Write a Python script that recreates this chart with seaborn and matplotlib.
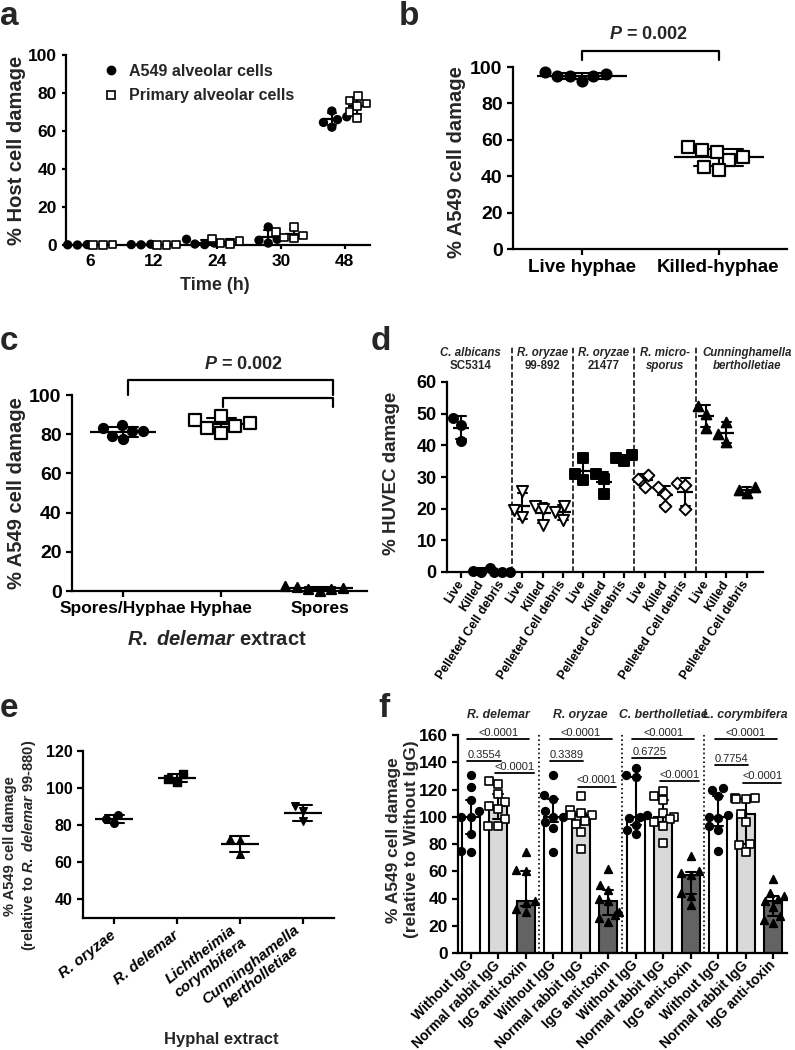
import warnings
import numpy as np
import pandas as pd
import matplotlib
matplotlib.use('Agg')
import matplotlib.pyplot as plt
from matplotlib.lines import Line2D
from matplotlib.patches import Rectangle
import seaborn as sns

warnings.filterwarnings('ignore')

# -----------------------------
# Data
# -----------------------------
# a: host cell damage over time
a_times = ['6', '12', '24', '30', '48']
a_cells = ['A549 alveolar cells', 'Primary alveolar cells']
a_a549 = [[0.2, 0.1, 0.0], [0.4, 0.2, 0.1], [3.0, 1.0, 0.5, 0.2],
          [9.5, 3.0, 2.5, 1.0], [70.5, 67.5, 66.0, 64.5, 62.0]]
a_primary = [[0.3, 0.1, 0.0], [0.2, 0.1, 0.0], [3.5, 2.0, 1.0, 0.5],
             [9.5, 7.0, 5.0, 4.0, 3.5], [78.5, 76.0, 74.5, 73.0, 70.0, 67.0]]

# b: live vs killed hyphae
b_groups = ['Live hyphae', 'Killed-hyphae']
b_live = [96, 95, 95, 97, 95, 92.5]
b_killed = [54.5, 49, 53.5, 50.5, 45, 56, 43.5]

# c: R. delemar extract
c_groups = ['Spores/Hyphae', 'Hyphae', 'Spores']
c_spores_hyphae = [83, 81.5, 81.5, 84.5, 79, 77.5]
c_hyphae = [87.5, 85.5, 84, 89.5, 83, 80.5]
c_spores = [2.2, 1.5, 1.0, 2.5, 0.8, 0.2]

# d: HUVEC damage (Live, Killed, Pelleted Cell debris)
d_conditions = ['Live', 'Killed', 'Pelleted Cell debris']
d_title_top = ['C. albicans', 'R. oryzae', 'R. oryzae', 'R. micro-', 'Cunninghamella']
d_title_bottom = ['SC5314', '99-892', '21477', 'sporus', 'bertholletiae']
d_title_bottom_italic = [False, False, False, True, True]
d_calbicans = [[48.5, 46.5, 41.5], [1.2, 0.3, 0.0], [0.1, 0.0, 0.0]]
d_roryzae892 = [[25.5, 19.5, 17.5], [21.0, 20.0, 15.0], [21.0, 19.0, 16.5]]
d_roryzae21477 = [[36.0, 31.0, 29.0], [31.0, 29.5, 24.5], [37.0, 36.0, 35.0]]
d_rmicro = [[30.5, 29.5, 27.0], [27.0, 24.5, 21.0], [28.0, 27.5, 20.0]]
d_cunning = [[52.5, 50.0, 45.5], [47.5, 43.5, 41.0], [27.0, 26.0, 25.0]]

# e: hyphal extracts, relative to R. delemar 99-880
e_species = ['R. oryzae', 'R. delemar', 'Lichtheimia\ncorymbifera', 'Cunninghamella\nbertholletiae']
e_values = [[85.5, 83.0, 81.0], [107.5, 105.0, 103.5], [72.5, 72.0, 64.5], [90.5, 87.5, 82.0]]

# f: IgG anti-toxin
f_species = ['R. delemar', 'R. oryzae', 'C. bertholletiae', 'L. corymbifera']
f_kinds = ['Without IgG', 'Normal rabbit IgG', 'IgG anti-toxin']
f_without = [[131, 122, 112, 104, 100, 100, 87, 75, 74],
             [131, 116, 113, 104, 100, 100, 96, 92, 74],
             [136, 131, 129, 101, 100, 99, 94, 90, 87],
             [121, 120, 115, 101, 100, 99, 93, 90, 75]]
f_normal = [[126, 124, 117, 111, 108, 106, 98, 93, 93],
            [115, 105, 103, 101, 101, 97, 95, 89, 76],
            [119, 115, 112, 103, 100, 98, 96, 93, 81],
            [114, 114, 113, 113, 102, 96, 80, 79, 74]]
f_antitoxin = [[74, 61, 60, 38, 37, 32, 30],
               [62, 50, 46, 40, 38, 30, 28, 26, 23],
               [71, 60, 59, 57, 44, 42, 35],
               [54, 44, 42, 40, 38, 34, 27, 24, 22]]
f_pvalues = [['<0.0001', '0.3554', '<0.0001'],
             ['<0.0001', '0.3389', '<0.0001'],
             ['<0.0001', '0.6725', '<0.0001'],
             ['<0.0001', '0.7754', '<0.0001']]
f_p_heights = [[157, 141, 132], [157, 141, 122], [157, 143, 126], [157, 138, 125]]

# -----------------------------
# Style
# -----------------------------
sns.set_style('ticks')
plt.rcParams['font.family'] = ['Liberation Sans', 'DejaVu Sans']
plt.rcParams['font.weight'] = 'bold'
plt.rcParams['axes.labelweight'] = 'bold'
plt.rcParams['axes.linewidth'] = 1.6
plt.rcParams['xtick.major.width'] = 1.6
plt.rcParams['ytick.major.width'] = 1.6
plt.rcParams['xtick.major.size'] = 4
plt.rcParams['ytick.major.size'] = 4
plt.rcParams['xtick.color'] = 'black'
plt.rcParams['ytick.color'] = 'black'
plt.rcParams['axes.edgecolor'] = 'black'
plt.rcParams['mathtext.fontset'] = 'custom'
plt.rcParams['mathtext.it'] = 'Liberation Sans:italic:bold'
plt.rcParams['mathtext.rm'] = 'Liberation Sans:bold'
plt.rcParams['mathtext.bf'] = 'Liberation Sans:bold'

W, H = 795, 1050
fig = plt.figure(figsize=(W / 100, H / 100), dpi=100)


def box(l, t, r, b):
    return [l / W, 1 - b / H, (r - l) / W, (b - t) / H]


def mean_sd(ax, df, x, order, msize, cap, hue=None, hue_order=None, dodge=False):
    sns.pointplot(data=df, x=x, y='value', hue=hue, order=order, hue_order=hue_order,
                  palette=['black'] * len(hue_order) if hue else None,
                  color='black', dodge=dodge, errorbar='sd', markers='_', linestyles='none',
                  markersize=msize, markeredgewidth=1.6, capsize=cap,
                  err_kws={'linewidth': 1.5, 'linestyle': '-'}, legend=False, ax=ax)


def unclip(ax):
    for c in ax.collections:
        c.set_clip_on(False)
    for l in ax.lines:
        l.set_clip_on(False)


# -----------------------------
# a
# -----------------------------
rows = []
for t, va, vp in zip(a_times, a_a549, a_primary):
    rows += [(t, a_cells[0], v) for v in va]
    rows += [(t, a_cells[1], v) for v in vp]
df_a = pd.DataFrame(rows, columns=['time', 'cell', 'value'])

ax = fig.add_axes(box(66, 55, 370, 245))
pal_a = {a_cells[0]: 'black', a_cells[1]: 'white'}
for cell, mk in zip(a_cells, ['o', 's']):
    sns.swarmplot(data=df_a[df_a.cell == cell], x='time', y='value', hue='cell',
                  order=a_times, hue_order=a_cells, palette=pal_a, dodge=True,
                  marker=mk, size=5.5, edgecolor='black', linewidth=1.2, legend=False, ax=ax)
mean_sd(ax, df_a, 'time', a_times, 13, 0.12, hue='cell', hue_order=a_cells, dodge=0.4)
unclip(ax)
ax.set_ylim(0, 100)
ax.set_xlim(-0.38, 4.4)
ax.set_yticks(range(0, 101, 20))
ax.tick_params(labelsize=12.5, length=3)
ax.set_xlabel('Time (h)', fontsize=13)
ax.set_ylabel('% Host cell damage', fontsize=14.5)
ax.xaxis.set_label_coords(0.49, -0.17)
ax.yaxis.set_label_coords(-0.13, 0.5)
handles = [Line2D([], [], marker='o', ls='none', color='black', markersize=6),
           Line2D([], [], marker='s', ls='none', mfc='white', mec='black', markersize=6, mew=1.2)]
ax.legend(handles, a_cells, loc='upper left', bbox_to_anchor=(0.07, 1.03), frameon=False,
          fontsize=11.5, handletextpad=0.5, labelspacing=0.6, handlelength=1.2)
sns.despine(ax=ax)

# -----------------------------
# b
# -----------------------------
df_b = pd.DataFrame([(b_groups[0], v) for v in b_live] + [(b_groups[1], v) for v in b_killed],
                    columns=['group', 'value'])
ax = fig.add_axes(box(513, 67, 787, 249))
sns.swarmplot(data=df_b[df_b.group == b_groups[0]], x='group', y='value', order=b_groups,
              color='black', marker='o', size=7.5, edgecolor='black', linewidth=1.2, ax=ax)
sns.swarmplot(data=df_b[df_b.group == b_groups[1]], x='group', y='value', order=b_groups,
              color='white', marker='s', size=8.5, edgecolor='black', linewidth=1.6, ax=ax)
mean_sd(ax, df_b, 'group', b_groups, 65, 0.36)
unclip(ax)
ax.set_ylim(0, 100)
ax.set_xlim(-0.5, 1.5)
ax.set_yticks(range(0, 101, 20))
ax.tick_params(labelsize=14)
ax.tick_params(axis='x', labelsize=13.5)
ax.set_xlabel('')
ax.set_ylabel('% A549 cell damage', fontsize=14.5)
ax.yaxis.set_label_coords(-0.17, 0.48)
ax.plot([0, 0, 1, 1], [104, 109, 109, 104], color='black', lw=1.6, clip_on=False)
ax.text(0.49, 113, r'$\mathit{P}$ = 0.002', ha='center', va='bottom', fontsize=13)
sns.despine(ax=ax)

# -----------------------------
# c
# -----------------------------
df_c = pd.DataFrame([(c_groups[0], v) for v in c_spores_hyphae] +
                    [(c_groups[1], v) for v in c_hyphae] +
                    [(c_groups[2], v) for v in c_spores], columns=['group', 'value'])
ax = fig.add_axes(box(72, 395, 367, 591))
for g, mk, col, sz in zip(c_groups, ['o', 's', '^'], ['black', 'white', 'black'], [6.5, 9, 6.5]):
    sns.swarmplot(data=df_c[df_c.group == g], x='group', y='value', order=c_groups,
                  color=col, marker=mk, size=sz, edgecolor='black', linewidth=1.6, ax=ax)
mean_sd(ax, df_c, 'group', c_groups, 47, 0.3)
unclip(ax)
ax.set_ylim(0, 100)
ax.set_xlim(-0.52, 2.48)
ax.set_yticks(range(0, 101, 20))
ax.tick_params(labelsize=14)
ax.tick_params(axis='x', labelsize=12.5)
ax.set_xlabel(r'$\mathit{R.}$ $\mathit{delemar}$ extract', fontsize=14.5)
ax.set_ylabel('% A549 cell damage', fontsize=14.5)
ax.xaxis.set_label_coords(0.49, -0.2)
ax.yaxis.set_label_coords(-0.155, 0.5)
ax.plot([0.05, 0.05, 2.13, 2.13], [100, 107.6, 107.6, 100], color='black', lw=1.6, clip_on=False)
ax.plot([1.02, 1.02, 2.13, 2.13], [94, 98.3, 98.3, 94], color='black', lw=1.6, clip_on=False)
ax.text(1.22, 111, r'$\mathit{P}$ = 0.002', ha='center', va='bottom', fontsize=13)
sns.despine(ax=ax)

# -----------------------------
# d
# -----------------------------
d_sets = [d_calbicans, d_roryzae892, d_roryzae21477, d_rmicro, d_cunning]
d_keys = [f'{s}|{c}' for s in range(5) for c in d_conditions]
rows = []
for s, sets in enumerate(d_sets):
    for c, vals in zip(d_conditions, sets):
        rows += [(s, f'{s}|{c}', v) for v in vals]
df_d = pd.DataFrame(rows, columns=['strain', 'key', 'value'])

ax = fig.add_axes(box(447, 382, 763, 572))
d_marks = [('o', 'black', 6.5), ('v', 'white', 8), ('s', 'black', 6.5), ('D', 'white', 6), ('^', 'black', 7)]
for s, (mk, col, sz) in enumerate(d_marks):
    sns.swarmplot(data=df_d[df_d.strain == s], x='key', y='value', order=d_keys,
                  color=col, marker=mk, size=sz, edgecolor='black', linewidth=1.4, ax=ax)
mean_sd(ax, df_d, 'key', d_keys, 11, 0.45)
unclip(ax)
ax.set_ylim(0, 60)
ax.set_xlim(-0.69, 14.8)
ax.set_yticks(range(0, 61, 10))
ax.set_xticks(range(15))
ax.set_xticklabels(d_conditions * 5, rotation=57, ha='right', va='center',
                   rotation_mode='anchor', fontsize=9)
ax.tick_params(axis='y', labelsize=13)
ax.tick_params(axis='x', pad=3)
ax.set_xlabel('')
ax.set_ylabel('% HUVEC damage', fontsize=13.5)
ax.yaxis.set_label_coords(-0.15, 0.52)
ax.vlines([2.5, 5.5, 8.5, 11.5], 0, 71, colors='black', linestyles='--', lw=1.1, clip_on=False)
d_title_x = [0.45, 4, 7, 10, 14]
for s in range(5):
    ax.text(d_title_x[s], 69.3, d_title_top[s], ha='center', va='center', fontsize=8.3,
            fontstyle='italic', clip_on=False)
    ax.text(d_title_x[s], 65.2, d_title_bottom[s], ha='center', va='center', fontsize=8.3,
            fontstyle='italic' if d_title_bottom_italic[s] else 'normal', clip_on=False)
sns.despine(ax=ax)

# -----------------------------
# e
# -----------------------------
rows = []
for sp, vals in zip(e_species, e_values):
    rows += [(sp, v) for v in vals]
df_e = pd.DataFrame(rows, columns=['species', 'value'])
ax = fig.add_axes(box(83, 751, 334, 917.5))
for sp, mk in zip(e_species, ['o', 's', '^', 'v']):
    sns.swarmplot(data=df_e[df_e.species == sp], x='species', y='value', order=e_species,
                  color='black', marker=mk, size=5.5, edgecolor='black', linewidth=1, ax=ax)
mean_sd(ax, df_e, 'species', e_species, 28, 0.3)
unclip(ax)
ax.set_ylim(30, 120)
ax.set_xlim(-0.5, 3.5)
ax.set_yticks(range(40, 121, 20))
ax.set_xticks(range(4))
ax.set_xticklabels(e_species, rotation=38, ha='right', va='center', rotation_mode='anchor',
                   fontsize=11, fontstyle='italic', multialignment='center')
ax.tick_params(axis='y', labelsize=11.5)
ax.tick_params(axis='x', pad=8)
ax.set_xlabel('Hyphal extract', fontsize=12)
ax.set_ylabel('% A549 cell damage\n(relative to ' + r'$\mathit{R.}$ $\mathit{delemar}$' + ' 99-880)',
              fontsize=10.5)
ax.xaxis.set_label_coords(0.55, -0.69)
ax.yaxis.set_label_coords(-0.18, 0.43)
sns.despine(ax=ax)

# -----------------------------
# f
# -----------------------------
f_keys = [f'{s}|{k}' for s in range(4) for k in f_kinds]
rows = []
for s in range(4):
    for k, vals in zip(f_kinds, [f_without[s], f_normal[s], f_antitoxin[s]]):
        rows += [(f'{s}|{k}', k, v) for v in vals]
df_f = pd.DataFrame(rows, columns=['key', 'kind', 'value'])

ax = fig.add_axes(box(458, 735, 787, 953))
f_colors = {f_kinds[0]: 'white', f_kinds[1]: '#d9d9d9', f_kinds[2]: '#636363'}
sns.barplot(data=df_f, x='key', y='value', hue='kind', order=f_keys, hue_order=f_kinds,
            palette=f_colors, dodge=False, estimator='median', errorbar=('pi', 50),
            capsize=0.35, width=0.65, edgecolor='black', linewidth=1.5,
            err_kws={'linewidth': 1.5, 'color': 'black'}, legend=False, ax=ax)
for k, mk, col in zip(f_kinds, ['o', 's', '^'], ['black', 'white', 'black']):
    sns.swarmplot(data=df_f[df_f.kind == k], x='key', y='value', order=f_keys,
                  color=col, marker=mk, size=5.5, edgecolor='black', linewidth=1.2, ax=ax)
ax.set_ylim(0, 160)
ax.set_xlim(-0.46, 11.5)
ax.set_yticks(range(0, 161, 20))
ax.set_xticks(range(12))
ax.set_xticklabels(f_kinds * 4, rotation=45, ha='right', va='center',
                   rotation_mode='anchor', fontsize=10)
ax.tick_params(axis='y', labelsize=12.5)
ax.tick_params(axis='x', pad=3)
ax.set_xlabel('')
ax.set_ylabel('% A549 cell damage\n(relative to Without IgG)', fontsize=12.5)
ax.yaxis.set_label_coords(-0.12, 0.52)
ax.vlines([2.5, 5.5, 8.5], 0, 161, colors='black', linestyles=':', lw=1.2, clip_on=False)
for s in range(4):
    base = 3 * s
    spans = [(base - 0.12, base + 2.13), (base - 0.12, base + 1.1), (base + 0.89, base + 2.3)]
    for (x0, x1), yv, txt in zip(spans, f_p_heights[s], f_pvalues[s]):
        ax.plot([x0, x1], [yv, yv], color='black', lw=1.3, clip_on=False)
        ax.text((x0 + x1) / 2, yv + 1, txt, ha='center', va='bottom', fontsize=8,
                fontweight='normal')
    ax.text(base + 1, 175, f_species[s], ha='center', va='center', fontsize=8.8,
            fontstyle='italic')
sns.despine(ax=ax)

# -----------------------------
# Panel letters
# -----------------------------
for lab, x, y in [('a', 0, 25), ('b', 399, 25), ('c', 0, 350), ('d', 371, 350),
                  ('e', 0, 717), ('f', 378, 717)]:
    fig.text(x / W, 1 - y / H, lab, fontsize=24, fontweight='bold', va='baseline', ha='left')

# a stray mark shows up in the bottom-left corner; keep that corner blank
fig.add_artist(Rectangle((0, 0), 16 / W, 16 / H, transform=fig.transFigure,
                         facecolor='white', edgecolor='none', zorder=100))

fig.savefig('out.png', dpi=100)
